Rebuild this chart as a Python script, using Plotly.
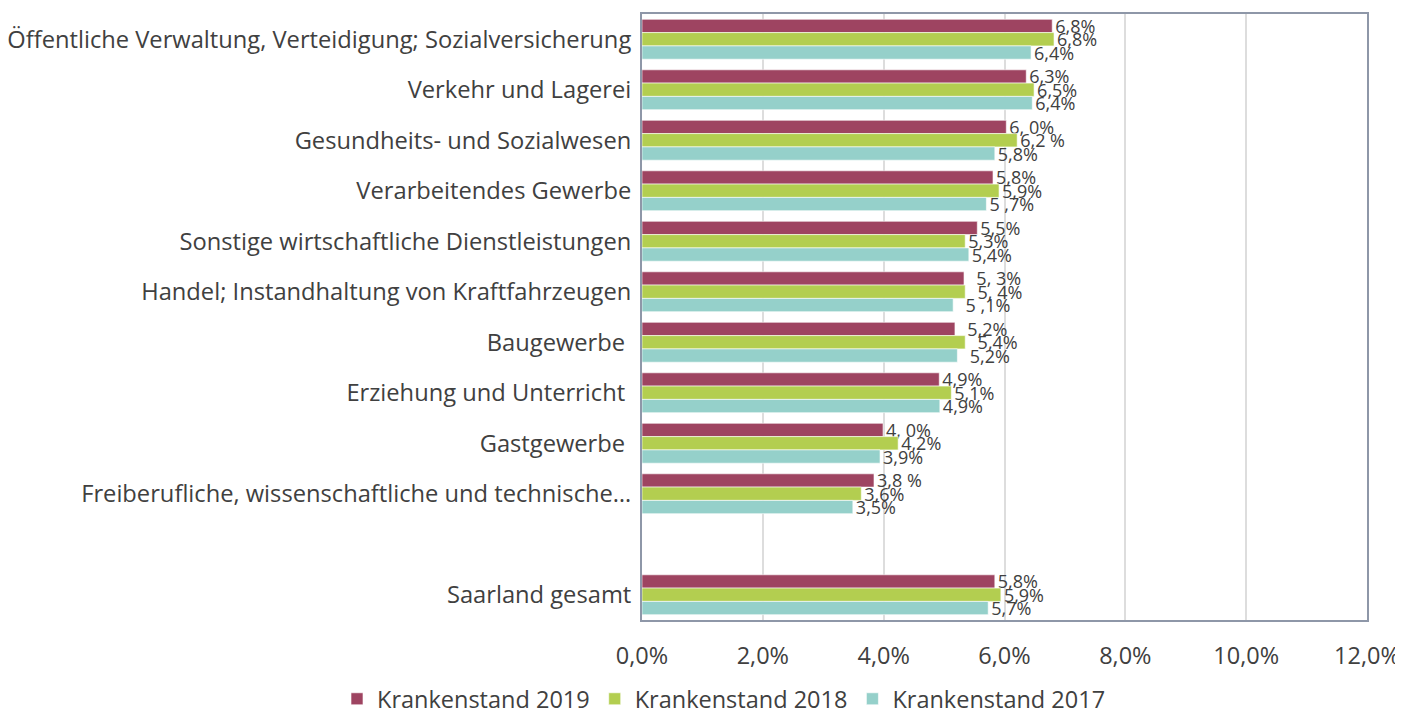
import plotly.graph_objects as go

NB = "\u00a0"
categories = [
    "Öffentliche Verwaltung, Verteidigung; Sozialversicherung",
    "Verkehr und Lagerei",
    "Gesundheits- und Sozialwesen",
    "Verarbeitendes Gewerbe",
    "Sonstige wirtschaftliche Dienstleistungen",
    "Handel; Instandhaltung von Kraftfahrzeugen",
    "Baugewerbe" + NB,
    "Erziehung und Unterricht" + NB,
    "Gastgewerbe" + NB,
    "Freiberufliche, wissenschaftliche und technische…",
    NB,
    "Saarland gesamt",
]
data_categories = [c for i, c in enumerate(categories) if i != 10]

series_names = ["Krankenstand 2019", "Krankenstand 2018", "Krankenstand 2017"]
values_2019 = [6.79, 6.36, 6.03, 5.81, 5.55, 5.33, 5.18, 4.92, 3.99, 3.84, 5.84]
values_2018 = [6.82, 6.49, 6.21, 5.91, 5.35, 5.35, 5.35, 5.12, 4.24, 3.63, 5.94]
values_2017 = [6.44, 6.46, 5.84, 5.70, 5.41, 5.15, 5.22, 4.93, 3.94, 3.49, 5.73]
labels_2019 = ["6,8%", "6,3%", "6, 0%", "5,8%", "5,5%", NB*2 + "5, 3%", NB*2 + "5,2%", "4,9%", "4, 0%", "3,8 %", "5,8%"]
labels_2018 = ["6,8%", "6,5%", "6,2 %", "5,9%", "5,3%", NB*2 + "5, 4%", NB*2 + "5,4%", "5,1%", "4,2%", "3,6%", "5,9%"]
labels_2017 = ["6,4%", "6,4%", "5,8%", "5 ,7%", "5,4%", NB*2 + "5 ,1%", NB*2 + "5,2%", "4,9%", "3,9%", "3,5%", "5,7%"]
colors = ["#9E4461", "#B3CE50", "#95D0CA"]

tick_vals = [0, 2, 4, 6, 8, 10, 12]
tick_text = ["0,0%", "2,0%", "4,0%", "6,0%", "8,0%", "10,0%", "12,0%"]

FONT = "Open Sans"
TXT = "#404040"

# page body has an 8px margin: figure is sized so it fits the 1403x711 window
W, H = 1395, 703
PL, PR, PT, PB = 634, 1359, 6, 612  # plot area in figure pixels

fig = go.Figure()
for name, vals, labs, col in zip(series_names,
                                 [values_2019, values_2018, values_2017],
                                 [labels_2019, labels_2018, labels_2017],
                                 colors):
    fig.add_trace(go.Bar(
        y=data_categories, x=vals, name=name, orientation="h",
        marker=dict(color=col, line=dict(color="rgba(255,255,255,0.6)", width=1)),
        text=labs, textposition="outside", constraintext="none",
        cliponaxis=False,
        textfont=dict(family=FONT, size=18, color=TXT),
        hoverinfo="x+y+name",
    ))

fig.update_layout(
    width=W, height=H,
    margin=dict(l=0, r=0, t=0, b=0, autoexpand=False),
    paper_bgcolor="white", plot_bgcolor="white",
    barmode="group", bargap=0.21, bargroupgap=0,
    font=dict(family=FONT, color=TXT),
    showlegend=True,
    legend=dict(orientation="h", xref="paper", yref="paper",
                x=716 / W, xanchor="center", y=(H - 691) / H, yanchor="middle",
                font=dict(family=FONT, size=23.5, color=TXT),
                traceorder="normal", itemwidth=30, tracegroupgap=0),
)
fig.update_xaxes(
    domain=[PL / W, PR / W],
    range=[0, 12], tickvals=tick_vals, ticktext=tick_text,
    showgrid=True, gridcolor="#DDDDDD", gridwidth=1.5,
    showline=True, linecolor="#8E97A8", linewidth=2, mirror=True,
    ticks="", ticklabelstandoff=14, automargin=False,
    tickfont=dict(family=FONT, size=23.5, color=TXT), zeroline=False,
)
fig.update_yaxes(
    domain=[(H - PB) / H, (H - PT) / H],
    categoryorder="array", categoryarray=categories,
    type="category", range=[len(categories) - 0.5, -0.5], autorange=False,
    showline=True, linecolor="#8E97A8", linewidth=2, mirror=True,
    ticks="", ticklabelstandoff=4, showgrid=False, automargin=False,
    tickfont=dict(family=FONT, size=23.7, color=TXT),
)

fig.write_html("out.html")
